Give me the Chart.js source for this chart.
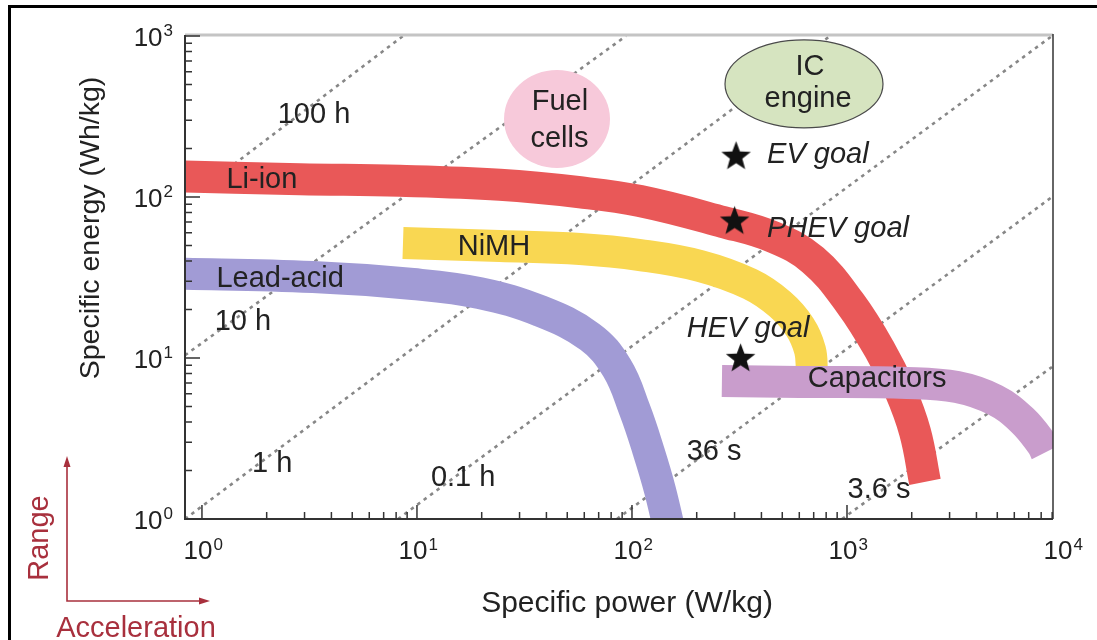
<!DOCTYPE html>
<html>
<head>
<meta charset="utf-8">
<script src="https://cdn.jsdelivr.net/npm/chart.js@4.4.0/dist/chart.umd.min.js"></script>
<style>
  html, body { margin: 0; padding: 0; background: #fff; }
</style>
</head>
<body>
<canvas id="ragone" width="1097" height="640"></canvas>
<script>
// band centre lines: specific power (W/kg) vs specific energy (Wh/kg)
const liIonPower  = [0.7, 2.86, 8.3, 24.3, 57.3, 109, 265, 453, 695, 1032, 1423, 1764, 2072, 2305];
const liIonEnergy = [135, 129, 126, 119, 107, 94.4, 70, 56.4, 40.6, 22, 11.2, 6.3, 3.47, 1.70];

const nimhPower  = [8.61, 24.3, 57.3, 109, 207, 354, 488, 604, 673, 687];
const nimhEnergy = [51.8, 49.6, 47.5, 43.6, 37.3, 28.8, 21.6, 15.6, 11.2, 8.19];

const leadPower  = [0.7, 3.28, 9.58, 19.6, 37.3, 63.8, 85.1, 103, 119, 135, 153];
const leadEnergy = [33.5, 31.8, 28.8, 25.3, 19.6, 13.5, 8.67, 4.75, 2.68, 1.51, 0.74];

const capPower  = [262, 604, 1901, 3250, 4880, 6520, 8080, 8430];
const capEnergy = [7.2, 7.1, 7.0, 6.6, 5.48, 4.12, 2.92, 2.61];

// constant discharge-time lines (start / end points)
const timeStartPower  = [1.15, 0.834, 0.834, 8.16, 85.1, 948];
const timeStartEnergy = [130, 10.4, 1.0, 1, 1, 1];
const timeEndPower    = [8.61, 93.8, 834, 8980, 8980, 8980];
const timeEndEnergy   = [1000, 1000, 1000, 1000, 100, 8.79];

// goals (stars)
const goalPower  = [305, 300, 320];
const goalEnergy = [182, 72, 10.1];
const goalText   = ['EV goal', 'PHEV goal', 'HEV goal'];
const goalTextPower  = [425, 425, 180];
const goalTextEnergy = [163, 56.4, 13.5];

// plain labels (centred, baseline at point)
const noteText   = ['100 h', '10 h', '1 h', '0.1 h', '36 s', '3.6 s', 'Li-ion', 'NiMH', 'Lead-acid', 'Capacitors', 'Fuel', 'cells', 'IC', 'engine'];
const notePower  = [3.32, 1.55, 2.12, 16.4, 241, 1409, 1.90, 22.8, 2.31, 1380, 46.2, 46, 673, 659];
const noteEnergy = [288, 14.9, 1.96, 1.60, 2.32, 1.35, 114, 43.6, 27.6, 6.61, 347, 205, 573, 362];

// fuel cells / IC engine regions
const blobPower  = [44.8, 631];
const blobEnergy = [305, 504];

// axis ticks
const xDecades = [1, 10, 100, 1000, 10000];
const xTickExp = ['0', '1', '2', '3', '4'];
const yDecades = [1, 10, 100, 1000];
const yTickExp = ['0', '1', '2', '3'];

const FONT = '"Liberation Sans", Arial, sans-serif';

function pts(px, py) {
  return px.map((p, i) => ({ x: p, y: py[i] }));
}

function band(px, py, colour, order) {
  return {
    data: pts(px, py),
    borderColor: colour,
    borderWidth: 32,
    borderCapStyle: 'butt',
    borderJoinStyle: 'round',
    tension: 0.4,
    pointRadius: 0,
    fill: false,
    clip: 0,
    order: order
  };
}

function starImage(size) {
  const c = document.createElement('canvas');
  c.width = size; c.height = size;
  const g = c.getContext('2d');
  const r = size / 2, ri = r * 0.42;
  g.beginPath();
  for (let i = 0; i < 10; i++) {
    const ang = -Math.PI / 2 + i * Math.PI / 5;
    const rr = i % 2 ? ri : r;
    g.lineTo(r + rr * Math.cos(ang), r + 1.5 + rr * Math.sin(ang));
  }
  g.closePath();
  g.fillStyle = '#111';
  g.fill();
  return c;
}

const timeLines = timeStartPower.map((p, i) => ({
  data: [{ x: p, y: timeStartEnergy[i] }, { x: timeEndPower[i], y: timeEndEnergy[i] }],
  borderColor: '#878787',
  borderWidth: 2.6,
  borderDash: [3.5, 4.5],
  pointRadius: 0,
  tension: 0,
  fill: false,
  clip: 0,
  order: 10
}));

const decor = {
  id: 'decor',
  afterDatasetsDraw(chart) {
    const ctx = chart.ctx, xs = chart.scales.x, ys = chart.scales.y;
    ctx.save();
    // fuel cells
    ctx.beginPath();
    ctx.ellipse(xs.getPixelForValue(blobPower[0]), ys.getPixelForValue(blobEnergy[0]), 53, 49, 0, 0, Math.PI * 2);
    ctx.fillStyle = '#f7c9da';
    ctx.fill();
    // IC engine
    ctx.beginPath();
    ctx.ellipse(xs.getPixelForValue(blobPower[1]), ys.getPixelForValue(blobEnergy[1]), 79, 44, 0, 0, Math.PI * 2);
    ctx.fillStyle = '#d6e4c0';
    ctx.fill();
    ctx.lineWidth = 1.2;
    ctx.strokeStyle = '#4a4a4a';
    ctx.stroke();

    ctx.fillStyle = '#222';
    ctx.font = '29px ' + FONT;
    ctx.textAlign = 'center';
    ctx.textBaseline = 'alphabetic';
    noteText.forEach((t, i) => {
      ctx.fillText(t, xs.getPixelForValue(notePower[i]), ys.getPixelForValue(noteEnergy[i]));
    });
    ctx.font = 'italic 29px ' + FONT;
    ctx.textAlign = 'left';
    goalText.forEach((t, i) => {
      ctx.fillText(t, xs.getPixelForValue(goalTextPower[i]), ys.getPixelForValue(goalTextEnergy[i]));
    });
    ctx.restore();
  },
  afterDraw(chart) {
    const ctx = chart.ctx, a = chart.chartArea, xs = chart.scales.x, ys = chart.scales.y;
    ctx.save();
    // plot box
    ctx.strokeStyle = '#c4c4c4';
    ctx.lineWidth = 3;
    ctx.beginPath(); ctx.moveTo(a.left, a.top - 1); ctx.lineTo(a.right, a.top - 1); ctx.stroke();
    ctx.strokeStyle = '#333';
    ctx.lineWidth = 2;
    ctx.beginPath();
    ctx.moveTo(a.left, a.top - 1); ctx.lineTo(a.left, a.bottom); ctx.lineTo(a.right, a.bottom);
    ctx.stroke();
    ctx.lineWidth = 1.5;
    ctx.beginPath(); ctx.moveTo(a.right, a.top - 2); ctx.lineTo(a.right, a.bottom); ctx.stroke();

    // tick marks (inside)
    ctx.lineWidth = 1.5;
    ctx.beginPath();
    xDecades.forEach(d => {
      for (let m = 1; m < 10; m++) {
        const v = d * m;
        if (v < xs.min || v > xs.max) continue;
        const px = xs.getPixelForValue(v);
        ctx.moveTo(px, a.bottom); ctx.lineTo(px, a.bottom - (m === 1 ? 14 : 7));
      }
    });
    yDecades.forEach(d => {
      for (let m = 1; m < 10; m++) {
        const v = d * m;
        if (v < ys.min || v > ys.max) continue;
        const py = ys.getPixelForValue(v);
        ctx.moveTo(a.left, py); ctx.lineTo(a.left + (m === 1 ? 15 : 7), py);
      }
    });
    ctx.stroke();

    // tick labels
    ctx.fillStyle = '#222';
    ctx.textBaseline = 'alphabetic';
    xDecades.forEach((d, i) => {
      const px = xs.getPixelForValue(d) - 4;
      ctx.font = '26px ' + FONT;
      ctx.textAlign = 'center';
      const w = ctx.measureText('10').width;
      ctx.fillText('10', px, 559);
      ctx.font = '17px ' + FONT;
      ctx.textAlign = 'left';
      ctx.fillText(xTickExp[i], px + w / 2 + 1, 550);
    });
    yDecades.forEach((d, i) => {
      const py = ys.getPixelForValue(d) + 10;
      ctx.font = '17px ' + FONT;
      ctx.textAlign = 'right';
      const ew = ctx.measureText(yTickExp[i]).width;
      ctx.fillText(yTickExp[i], 173, py - 10);
      ctx.font = '26px ' + FONT;
      ctx.fillText('10', 173 - ew - 1, py);
    });

    // axis titles
    ctx.font = '30px ' + FONT;
    ctx.textAlign = 'center';
    ctx.fillText('Specific power (W/kg)', 627, 612);
    ctx.save();
    ctx.translate(99, 228);
    ctx.rotate(-Math.PI / 2);
    ctx.font = '28.5px ' + FONT;
    ctx.fillText('Specific energy (Wh/kg)', 0, 0);
    ctx.restore();

    // range / acceleration arrows
    const red = '#a8303d';
    ctx.strokeStyle = red;
    ctx.fillStyle = red;
    ctx.lineWidth = 1.6;
    ctx.beginPath();
    ctx.moveTo(67, 465); ctx.lineTo(67, 601); ctx.lineTo(202, 601);
    ctx.stroke();
    ctx.beginPath();
    ctx.moveTo(67, 456); ctx.lineTo(63.5, 467); ctx.lineTo(70.5, 467); ctx.closePath(); ctx.fill();
    ctx.beginPath();
    ctx.moveTo(210, 601); ctx.lineTo(199, 597.5); ctx.lineTo(199, 604.5); ctx.closePath(); ctx.fill();
    ctx.font = '29px ' + FONT;
    ctx.textAlign = 'center';
    ctx.fillText('Acceleration', 136, 637);
    ctx.save();
    ctx.translate(48, 538);
    ctx.rotate(-Math.PI / 2);
    ctx.fillText('Range', 0, 0);
    ctx.restore();

    // outer frame
    ctx.strokeStyle = '#000';
    ctx.lineWidth = 3;
    ctx.beginPath();
    ctx.moveTo(9.5, 640); ctx.lineTo(9.5, 6.5); ctx.lineTo(1097, 6.5);
    ctx.stroke();
    ctx.restore();
  }
};

new Chart(document.getElementById('ragone'), {
  type: 'line',
  data: {
    datasets: [
      {
        data: pts(goalPower, goalEnergy),
        showLine: false,
        pointStyle: starImage(31),
        pointRadius: 15,
        order: 0
      },
      band(capPower, capEnergy, '#c99dcc', 1),
      band(liIonPower, liIonEnergy, '#e95858', 2),
      band(nimhPower, nimhEnergy, '#f9d752', 3),
      band(leadPower, leadEnergy, '#a19bd5', 4),
      ...timeLines
    ]
  },
  options: {
    responsive: false,
    animation: false,
    layout: { padding: { left: 185, right: 44, top: 36, bottom: 121 } },
    plugins: { legend: { display: false }, tooltip: { enabled: false } },
    scales: {
      x: { type: 'logarithmic', min: 0.834, max: 9080, display: false },
      y: { type: 'logarithmic', min: 1, max: 1000, display: false }
    }
  },
  plugins: [decor]
});
</script>
</body>
</html>
